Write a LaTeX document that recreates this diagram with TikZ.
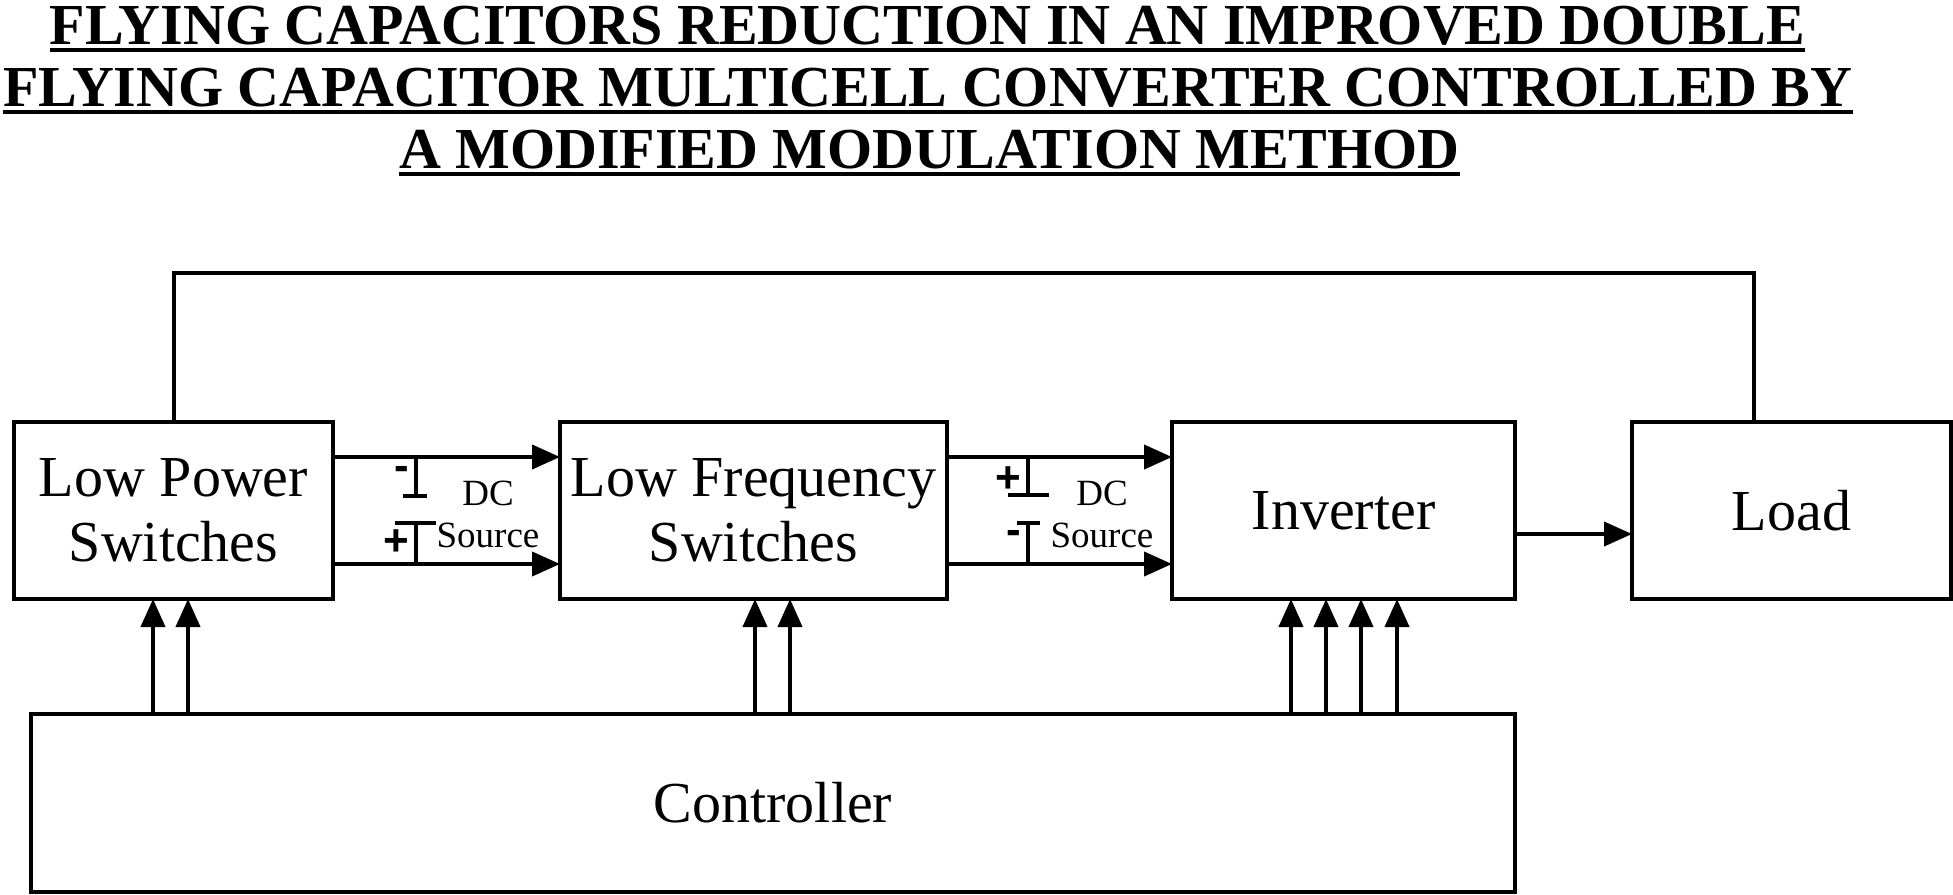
\documentclass[tikz,border=0pt]{standalone}
\usepackage{fontspec}
\setmainfont{Liberation Serif}
\newfontfamily\pmfont{Liberation Sans}
\usetikzlibrary{arrows.meta}
\begin{document}
\begin{tikzpicture}[x=0.5pt,y=-0.5pt,line width=2pt,
  blk/.style={draw,line width=2pt,inner sep=0pt,outer sep=0pt,minimum height=88.5pt,align=center,font=\fontsize{29}{32.5}\selectfont},
  arr/.style={-{Triangle[length=14pt,width=12pt]}},
  ttl/.style={anchor=base,inner sep=0pt,outer sep=0pt,font=\fontsize{29}{31}\selectfont\bfseries},
  uline/.style={line width=2pt},
  lbl/.style={inner sep=0pt,font=\fontsize{18.5}{20}\selectfont},
  pm/.style={inner sep=0pt,font=\pmfont\bfseries\fontsize{22}{24}\selectfont}]
\useasboundingbox (0,0) rectangle (1953,894);
% title
\node[ttl] (t1) at (927.5,44) {FLYING CAPACITORS REDUCTION IN AN IMPROVED DOUBLE};
\node[ttl] (t2) at (928,106) {FLYING CAPACITOR MULTICELL CONVERTER CONTROLLED BY};
\node[ttl] (t3) at (929.5,168) {A MODIFIED MODULATION METHOD};
\foreach \t in {t1,t2,t3}
  \draw[uline] ([yshift=-3pt]\t.base west) -- ([yshift=-3pt]\t.base east);
% blocks
\node[blk,minimum width=159.5pt] (lps) at (173.5,510.5) {Low Power\\Switches};
\node[blk,minimum width=193.5pt] (lfs) at (753.5,510.5) {Low Frequency\\Switches};
\node[blk,minimum width=171.5pt] (inv) at (1343.5,510.5) {Inverter};
\node[blk,minimum width=159.5pt] (load) at (1791.5,510.5) {Load};
\node[blk,minimum width=742pt,minimum height=89pt] (ctrl) at (773,803) {Controller};
% helper coordinates
\coordinate (ya) at (0,457);
\coordinate (yb) at (0,564);
\coordinate (yl) at (0,534);
\coordinate (fb) at (1754,273);
% DC links
\draw[arr] (lps.east|-ya) -- (lfs.west|-ya);
\draw[arr] (lps.east|-yb) -- (lfs.west|-yb);
\draw[arr] (lfs.east|-ya) -- (inv.west|-ya);
\draw[arr] (lfs.east|-yb) -- (inv.west|-yb);
\draw[arr] (inv.east|-yl) -- (load.west|-yl);
% feedback
\draw (lps.north) -- (lps.north|-fb) -- (fb) -- (fb|-load.north);
% capacitor symbol 1
\draw (416,457) -- (416,496) (403,496) -- (427,496) (395,523) -- (436,523) (416,523) -- (416,564);
\node[pm] (m1) at (402,473) {-};
\node[pm] (p1) at (396,543) {+};
\node[lbl] (dc1) at (488,493) {DC};
\node[lbl] (s1) at (488,535) {Source};
% capacitor symbol 2
\draw (1028,457) -- (1028,495) (1008,495) -- (1049,495) (1017,523) -- (1040,523) (1028,523) -- (1028,564);
\node[pm] (p2) at (1008,480) {+};
\node[pm] (m2) at (1014,537) {-};
\node[lbl] (dc2) at (1102,493) {DC};
\node[lbl] (s2) at (1102,535) {Source};
% control signals
\foreach \x/\b in {153/lps,188/lps,755/lfs,790/lfs,1291/inv,1326/inv,1361/inv,1397/inv}{
  \coordinate (k\x) at (\x,0);
  \draw[arr] (ctrl.north-|k\x) -- (\b.south-|k\x);
}
\end{tikzpicture}
\end{document}
